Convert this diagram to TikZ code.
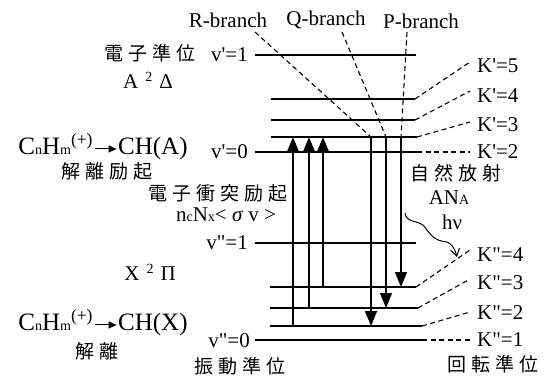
\documentclass[tikz,border=0pt]{standalone}
\usepackage{fontspec}
\setmainfont{Liberation Serif}[Ligatures=TeXOff]
\newfontfamily\cjk{Noto Sans CJK JP}
\usetikzlibrary{arrows.meta}
\newcommand\smx[1]{{\fontsize{14}{14}\selectfont #1}}
\newcommand\jk{\kern5pt}
\newcommand\rarr{\kern1pt\tikz[baseline=-6pt]\draw[line width=1.1pt,-{Triangle[length=8pt,width=7pt]}] (0pt,0pt) -- (22pt,0pt);\kern1pt}
\begin{document}
\begin{tikzpicture}[x=1pt,y=-1pt,
  lvl/.style={line width=2.2pt},
  vln/.style={line width=1.3pt},
  dsh/.style={line width=1.1pt,dash pattern=on 5pt off 3.5pt},
  tri/.style={-{Triangle[length=15pt,width=12pt]}},
  lab/.style={font=\fontsize{21}{22}\selectfont, inner sep=0pt},
  big/.style={font=\fontsize{25}{26}\selectfont, inner sep=0pt},
  jp/.style={font=\cjk\fontsize{19}{20}\selectfont, inner sep=0pt},
]
\useasboundingbox (0,0) rectangle (553,377);
% energy levels
\foreach \n/\xa/\xb/\y in {v1/255/416/55, a5/271/415/99, a4/271/415/120, a3/271/417/137, v0/255/417/152,
                           w1/255/416/243, b4/270/416/287, b3/270/418/308, b2/270/422/326, w0/255/422/340}{
  \coordinate (\n L) at (\xa,\y);
  \coordinate (\n R) at (\xb,\y);
  \draw[lvl] (\n L) -- (\n R);
}
% K labels
\node[lab,anchor=west] (k5) at (477,66) {K'=5};
\node[lab,anchor=west] (k4) at (477,96) {K'=4};
\node[lab,anchor=west] (k3) at (477,125) {K'=3};
\node[lab,anchor=west] (k2) at (477,152) {K'=2};
\node[lab,anchor=west] (q4) at (477,255) {K"=4};
\node[lab,anchor=west] (q3) at (477,283) {K"=3};
\node[lab,anchor=west] (q2) at (477,313) {K"=2};
\node[lab,anchor=west] (q1) at (477,340) {K"=1};
\coordinate (k5e) at (470,62);
\coordinate (k4e) at (470,91);
\coordinate (k3e) at (470,122);
\coordinate (k2e) at (470,152);
\coordinate (q4e) at (470,250);
\coordinate (q3e) at (470,279);
\coordinate (q2e) at (470,312);
\coordinate (q1e) at (470,340);
\draw[dsh] (a5R) -- (k5e);
\draw[dsh] (a4R) -- (k4e);
\draw[dsh] (a3R) -- (k3e);
\draw[dsh] (v0R) -- (k2e);
\draw[dsh] (b4R) -- (q4e);
\draw[dsh] (b3R) -- (q3e);
\draw[dsh] (b2R) -- (q2e);
\draw[dsh] (w0R) -- (q1e);
% excitation arrows
\coordinate (u1s) at (293,326); \coordinate (u1e) at (293,137);
\coordinate (u2s) at (309,308); \coordinate (u2e) at (309,137);
\coordinate (u3s) at (323,287); \coordinate (u3e) at (323,137);
\draw[vln,tri] (u1s) -- (u1e);
\draw[vln,tri] (u2s) -- (u2e);
\draw[vln,tri] (u3s) -- (u3e);
% emission arrows
\coordinate (d1s) at (371,137); \coordinate (d1e) at (371,326);
\coordinate (d2s) at (386,137); \coordinate (d2e) at (386,308);
\coordinate (d3s) at (401,137); \coordinate (d3e) at (401,287);
\draw[vln,tri] (d1s) -- (d1e);
\draw[vln,tri] (d2s) -- (d2e);
\draw[vln,tri] (d3s) -- (d3e);
% branch labels
\node[lab] (rb) at (228,20) {R-branch};
\node[lab] (qb) at (326,20) {Q-branch};
\node[lab] (pb) at (421,21) {P-branch};
\coordinate (rbs) at (255,32);
\coordinate (qbs) at (342,32);
\coordinate (pbs) at (407,32);
\draw[dsh] (rbs) -- (d1s);
\draw[dsh] (qbs) -- (d2s);
\draw[dsh] (pbs) -- (d3s);
% photon
\coordinate (hs) at (405,213);
\coordinate (he) at (457,257);
\draw[line width=1pt,-{Straight Barb[length=7pt,width=9pt]}] (hs) .. controls (406,223) and (418,220) .. (424,226)
  .. controls (430,234) and (434,241) .. (447,242) .. controls (452,244) and (455,249) .. (he);
% left texts
\node[jp] (t1) at (150,53) {電\jk 子\jk 準\jk 位};
\node[lab] (t2) at (148,80) {A\kern7pt\raisebox{7pt}{\smx{2}}\kern7ptΔ};
\node[big] (t3) at (103,147) {C\smx{n}H\smx{m}\textsuperscript{(+)}\rarr CH(A)};
\node[jp] (t4) at (107,171) {解\jk 離\jk 励\jk 起};
\node[jp] (t5) at (218,193) {電\jk 子\jk 衝\jk 突\jk 励\jk 起};
\node[lab] (t6) at (226,215) {n\smx{c}N\smx{x}< \textit{σ} v >};
\node[lab] (t7) at (150,272) {X\kern7pt\raisebox{7pt}{\smx{2}}\kern7ptΠ};
\node[big] (t8) at (103,323) {C\smx{n}H\smx{m}\textsuperscript{(+)}\rarr CH(X)};
\node[jp] (t9) at (97,351) {解\jk 離};
% level labels
\node[lab,anchor=east] (l1) at (248,55) {v'=1};
\node[lab,anchor=east] (l2) at (248,152) {v'=0};
\node[lab,anchor=east] (l3) at (248,243) {v"=1};
\node[lab,anchor=east] (l4) at (250,341) {v"=0};
\node[jp] (t10) at (240,366) {振\jk 動\jk 準\jk 位};
\node[jp] (t11) at (493,364) {回\jk 転\jk 準\jk 位};
\node[jp] (t12) at (456,173) {自\jk 然\jk 放\jk 射};
\node[lab] (t13) at (449,198) {AN\smx{A}};
\node[lab] (t14) at (452,222) {hν};
\end{tikzpicture}
\end{document}
